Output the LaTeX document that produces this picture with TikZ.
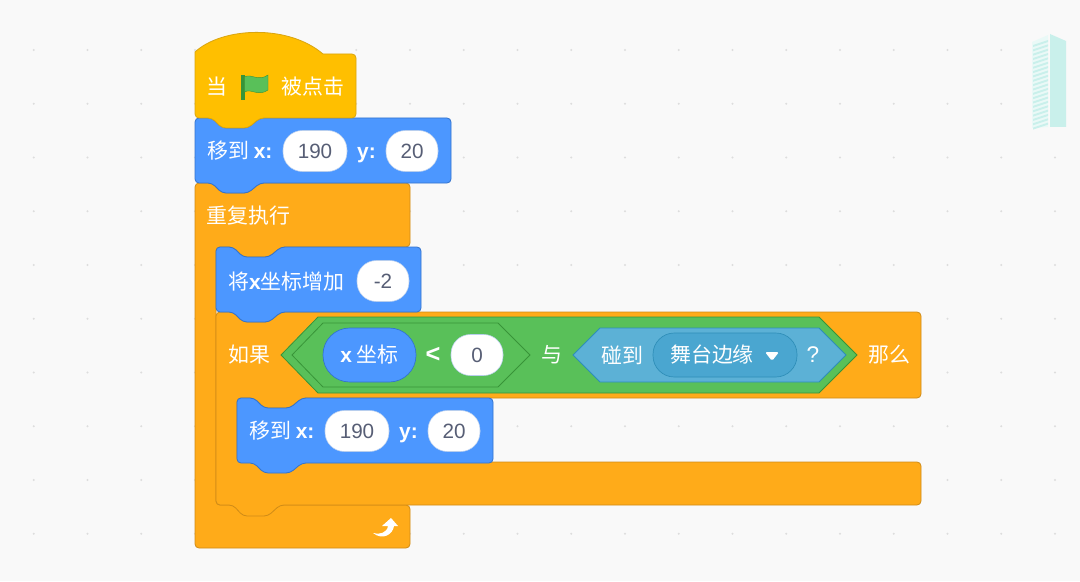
\documentclass[tikz,border=0pt]{standalone}
\usepackage{fontspec}
\setmainfont{Noto Sans CJK SC}
\newfontfamily\lat{Liberation Sans}
\definecolor{bgc}{HTML}{F9F9F9}
\definecolor{dotc}{HTML}{DDDDDD}
\definecolor{hatf}{HTML}{FFBF00}\definecolor{hatd}{HTML}{D9A510}
\definecolor{motf}{HTML}{4C97FF}\definecolor{motd}{HTML}{3373CC}
\definecolor{ctlf}{HTML}{FFAB19}\definecolor{ctld}{HTML}{CF8B17}
\definecolor{grnf}{HTML}{59C059}\definecolor{grnd}{HTML}{389438}
\definecolor{senf}{HTML}{5CB1D6}\definecolor{send}{HTML}{2E8EB8}
\definecolor{menuf}{HTML}{4AA6D0}
\definecolor{valc}{HTML}{575E75}
\definecolor{towerc}{HTML}{C9F0EB}\definecolor{towerl}{HTML}{EAF9F7}
\tikzset{
  motion/.style={fill=motf,draw=motd,line width=.6pt,rounded corners=3pt},
  control/.style={fill=ctlf,draw=ctld,line width=.6pt,rounded corners=3pt},
  boolgreen/.style={fill=grnf,draw=grnd,line width=.6pt},
  boolsense/.style={fill=senf,draw=send,line width=.6pt},
  lab/.style={text=white,inner sep=0pt,font=\fontsize{15.7}{18}\selectfont},
  latlab/.style={text=white,inner sep=0pt,font=\fontsize{15.7}{18}\selectfont\lat\bfseries},
  pill/.style={shape=rectangle,fill=white,draw=motd!35,line width=.4pt,rounded corners=14.5pt,
    minimum height=30.75pt,inner sep=0pt,text=valc,font=\fontsize{15.5}{18}\selectfont\lat},
  pillw/.style={pill,minimum width=48pt},
  pilln/.style={pill,minimum width=39pt},
}
\newcommand{\stackblock}[5]{%
  \draw[#1] (#2,#3) -- ++(17,0) -- ++(10,10) -- ++(26,0) -- ++(12,-10) -- ++({#4-65},0) -- ++(0,#5)
    -- ++({-(#4-65)},0) -- ++(-12,10) -- ++(-26,0) -- ++(-10,-10) -- ++(-17,0) -- cycle;}
\newcommand{\moveto}[3]{%
  \stackblock{motion}{#1}{#2}{256}{65}
  \path (#1,#2) ++(12,33) node[lab,anchor=west] (#3lab) {移到 {\lat\bfseries x:}};
  \path (#1,#2) ++(120,33) node[pillw] (#3x) {190};
  \path (#1,#2) ++(171.5,37) node[latlab] (#3ylab) {y:};
  \path (#1,#2) ++(217,33) node[pilln] (#3y) {20};
}
\begin{document}
\begin{tikzpicture}[x=.75pt,y=-.75pt]
\useasboundingbox (0,0) rectangle (1080,581);
\fill[bgc] (0,0) rectangle (1080,581);
\foreach \i in {0,...,19}{\foreach \j in {0,...,9}{
  \fill[dotc] ({33.75+53.75*\i},{50+53.75*\j}) circle (.9pt);}}
\fill[towerl] (1032,42) -- (1048,35) -- (1048,127) -- (1032,128) -- cycle;
\foreach \k in {0,...,19}{
  \fill[towerc] (1033,{45+\k*4.35}) -- (1048,{40+\k*4.35}) -- (1048,{42+\k*4.35}) -- (1033,{47+\k*4.35}) -- cycle;}
\fill[towerc] (1050,34) -- (1066,41) -- (1066,127) -- (1050,127) -- cycle;
\draw[control] (195,183) -- ++(17,0) -- ++(10,10) -- ++(26,0) -- ++(12,-10) -- (410,183) -- (410,247)
  -- (281,247) -- (269,257) -- (243,257) -- (233,247) -- (216,247) -- (216,505) -- (410,505) -- (410,548) -- (195,548) -- cycle;
\draw[control] (216,312) -- ++(17,0) -- ++(10,10) -- ++(26,0) -- ++(12,-10) -- (921,312) -- (921,398)
  -- (302,398) -- (290,408) -- (264,408) -- (254,398) -- (237,398) -- (237,462) -- (921,462) -- (921,505)
  -- (280,505) -- (268,516) -- (243,516) -- (233,505) -- (216,505) -- cycle;
\moveto{237}{398}{b}
\stackblock{motion}{216}{247}{205}{65}
\node[lab,anchor=west] (chg) at (228,282) {将{\lat\bfseries x}坐标增加};
\node[pilln] (chgv) at (383,281) {-2};
\moveto{195}{118}{a}
\draw[fill=hatf,draw=hatd,line width=.6pt,line join=round] (230,128) [rounded corners=3pt] -- (222,128) -- (212,118) -- (195,118)
  [sharp corners] -- (195,52) .. controls (222,27) and (288,24) .. (323,54)
  [rounded corners=3pt] -- (356,54) -- (356,118) -- (260,118) -- (248,128) -- cycle;
\node[lab] (when) at (217,87) {当};
\node[lab] (clicked) at (313,87) {被点击};
\fill[grnd] (241,75) rectangle (244.5,100);
\fill[fill=grnf,draw=grnd,line width=.3pt] (244.5,77) .. controls (251,73) and (258,82) .. (268,75)
  -- (268,90) .. controls (258,97) and (251,88) .. (244.5,92) -- cycle;
\node[lab,anchor=west] (forever) at (206,216) {重复执行};
\fill[white] (391,518) -- (398,526) -- (394,526) .. controls (393,534) and (383,541) .. (373,533)
  .. controls (379,535) and (387,533) .. (388,526) -- (382,526) -- cycle;
\node[lab,anchor=west] (iflab) at (228,355) {如果};
\node[lab] (thenlab) at (889,355) {那么};
\draw[boolgreen] (281,355) -- (318,317) -- (819,317) -- (857,355) -- (819,393) -- (318,393) -- cycle;
\draw[boolgreen] (292,355) -- (323,323) -- (498,323) -- (530,355) -- (498,387) -- (323,387) -- cycle;
\node[shape=rectangle,fill=motf,draw=motd,line width=.5pt,rounded corners=20pt,minimum width=69.75pt,minimum height=40.5pt,
  inner sep=0pt,text=white,font=\fontsize{15.7}{18}\selectfont] (xpos) at (369.5,355) {{\lat\bfseries x} 坐标};
\node[text=white,inner sep=0pt,font=\fontsize{19}{20}\selectfont\lat\bfseries] (lt) at (433,355) {<};
\node[pilln] (zero) at (477,355) {0};
\node[lab] (andlab) at (552,355) {与};
\draw[boolsense] (573,355) -- (600,328) -- (819,328) -- (846,355) -- (819,382) -- (600,382) -- cycle;
\node[lab] (touch) at (622,355) {碰到};
\node[shape=rectangle,fill=menuf,draw=send,line width=.5pt,rounded corners=16pt,minimum width=108pt,minimum height=33pt,inner sep=0pt] (menu) at (725,355) {};
\node[lab] (edge) at (712,355) {舞台边缘};
\fill[white,rounded corners=1.2pt] (765,352) -- (779,352) -- (772,361) -- cycle;
\node[text=white,inner sep=0pt,font=\fontsize{17}{20}\selectfont\lat] (qm) at (813,355) {?};
\end{tikzpicture}
\end{document}
